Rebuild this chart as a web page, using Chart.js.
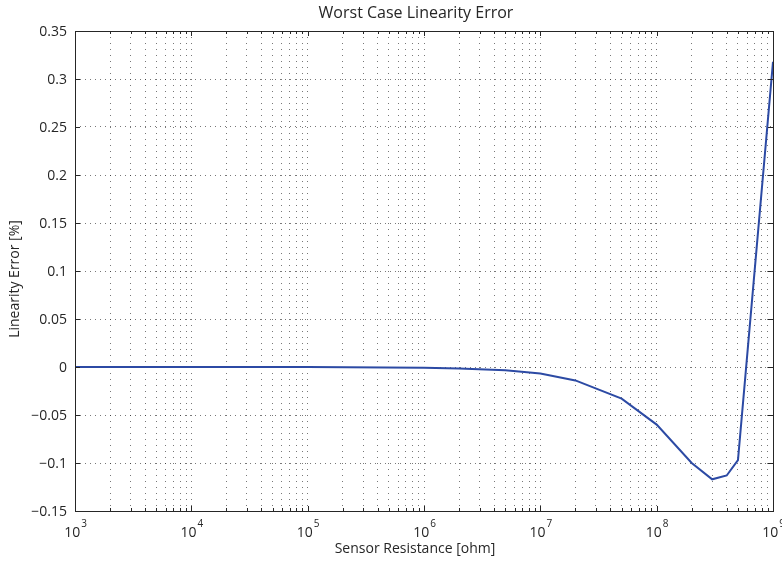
<!DOCTYPE html>
<html>
<head>
<meta charset="utf-8">
<script src="https://cdn.jsdelivr.net/npm/chart.js@4.4.1/dist/chart.umd.min.js"></script>
<style>
  html, body { margin: 0; padding: 0; background: #fff; }
  #wrap { width: 782px; height: 563px; position: relative; }
</style>
</head>
<body>
<div id="wrap"><canvas id="plot"></canvas></div>
<script>
// sensor resistance sweep [ohm] and worst case linearity error [%]
const resistance = [1e3, 1e4, 1e5, 1e6, 2e6, 5e6, 1e7, 2e7, 5e7, 1e8, 2e8, 3e8, 4e8, 5e8, 1e9];
const linError = [0, 0, -0.0001, -0.0008, -0.0015, -0.0035, -0.0068, -0.014, -0.033, -0.06, -0.1, -0.117, -0.113, -0.097, 0.318];

const decades = [3, 4, 5, 6, 7, 8, 9];
const yTicks = [-0.15, -0.1, -0.05, 0, 0.05, 0.1, 0.15, 0.2, 0.25, 0.3, 0.35];
const yTickLabels = ['\u22120.15', '\u22120.1', '\u22120.05', '0', '0.05', '0.1', '0.15', '0.2', '0.25', '0.3', '0.35'];

const titleText = 'Worst Case Linearity Error';
const xLabelText = 'Sensor Resistance [ohm]';
const yLabelText = 'Linearity Error [%]';

const FONT = '"Open Sans", "Liberation Sans", sans-serif';
const INK = '#262626';

// 1..9 x 10^n for every decade, up to 10^9
const xTickValues = [];
decades.forEach(d => {
  const top = d === 9 ? 1 : 9;
  for (let m = 1; m <= top; m++) xTickValues.push(m * Math.pow(10, d));
});
const isMajor = v => Math.abs(Math.log10(v) - Math.round(Math.log10(v))) < 1e-9;

const gridColor = 'rgba(30,30,30,0.6)';

const boxPlugin = {
  id: 'boxAxes',
  afterDraw(chart) {
    const { ctx, chartArea: a, scales } = chart;
    const xs = scales.x, ys = scales.y;
    ctx.save();
    ctx.strokeStyle = INK;
    ctx.lineWidth = 1;

    // inward tick marks on all four sides
    ctx.beginPath();
    xTickValues.forEach(v => {
      const px = Math.round(xs.getPixelForValue(v)) + 0.5;
      const len = isMajor(v) ? 5 : 3;
      ctx.moveTo(px, a.bottom); ctx.lineTo(px, a.bottom - len);
      ctx.moveTo(px, a.top); ctx.lineTo(px, a.top + len);
    });
    yTicks.forEach(v => {
      const py = Math.round(ys.getPixelForValue(v)) + 0.5;
      ctx.moveTo(a.left, py); ctx.lineTo(a.left + 5, py);
      ctx.moveTo(a.right, py); ctx.lineTo(a.right - 5, py);
    });
    ctx.stroke();

    ctx.strokeRect(Math.round(a.left) + 0.5, Math.round(a.top) + 0.5,
                   Math.round(a.right - a.left), Math.round(a.bottom - a.top));

    ctx.fillStyle = INK;

    // y tick labels
    ctx.font = '14px ' + FONT;
    ctx.textAlign = 'right';
    ctx.textBaseline = 'middle';
    yTicks.forEach((v, i) => {
      ctx.fillText(yTickLabels[i], a.left - 8, ys.getPixelForValue(v) + 1);
    });

    // x tick labels as 10^n
    ctx.textBaseline = 'alphabetic';
    decades.forEach(d => {
      const px = xs.getPixelForValue(Math.pow(10, d));
      ctx.font = '14px ' + FONT;
      const wBase = ctx.measureText('10').width;
      ctx.font = '10px ' + FONT;
      const wExp = ctx.measureText(String(d)).width;
      const x0 = px - (wBase + wExp) / 2;
      ctx.textAlign = 'left';
      ctx.font = '14px ' + FONT;
      ctx.fillText('10', x0, a.bottom + 26);
      ctx.font = '10px ' + FONT;
      ctx.fillText(String(d), x0 + wBase + 1, a.bottom + 16);
    });

    // title and axis labels
    ctx.textAlign = 'center';
    ctx.textBaseline = 'middle';
    ctx.font = '16px ' + FONT;
    ctx.fillText(titleText, (a.left + a.right) / 2 - 8, 13);
    ctx.font = '14px ' + FONT;
    ctx.fillText(xLabelText, (a.left + a.right) / 2 - 9, a.bottom + 38);

    ctx.translate(15, (a.top + a.bottom) / 2 + 8);
    ctx.rotate(-Math.PI / 2);
    ctx.fillText(yLabelText, 0, 0);
    ctx.restore();
  }
};

new Chart(document.getElementById('plot'), {
  type: 'line',
  data: {
    datasets: [{
      data: resistance.map((r, i) => ({ x: r, y: linError[i] })),
      borderColor: 'rgb(44,74,164)',
      borderWidth: 2,
      pointRadius: 0,
      tension: 0,
      fill: false
    }]
  },
  options: {
    responsive: true,
    maintainAspectRatio: false,
    animation: false,
    layout: { padding: { left: 75, top: 31, right: 9, bottom: 52 } },
    plugins: {
      legend: { display: false },
      title: { display: false },
      tooltip: { enabled: false }
    },
    scales: {
      x: {
        type: 'logarithmic',
        min: 1e3,
        max: 1e9,
        afterBuildTicks: scale => { scale.ticks = xTickValues.map(v => ({ value: v })); },
        ticks: { display: false },
        grid: { color: gridColor, lineWidth: 1, drawTicks: false },
        border: { display: false, dash: [1, 5] }
      },
      y: {
        min: -0.15,
        max: 0.35,
        afterBuildTicks: scale => { scale.ticks = yTicks.map(v => ({ value: v })); },
        ticks: { display: false },
        grid: { color: gridColor, lineWidth: 1, drawTicks: false },
        border: { display: false, dash: [1, 4] }
      }
    }
  },
  plugins: [boxPlugin]
});
</script>
</body>
</html>
